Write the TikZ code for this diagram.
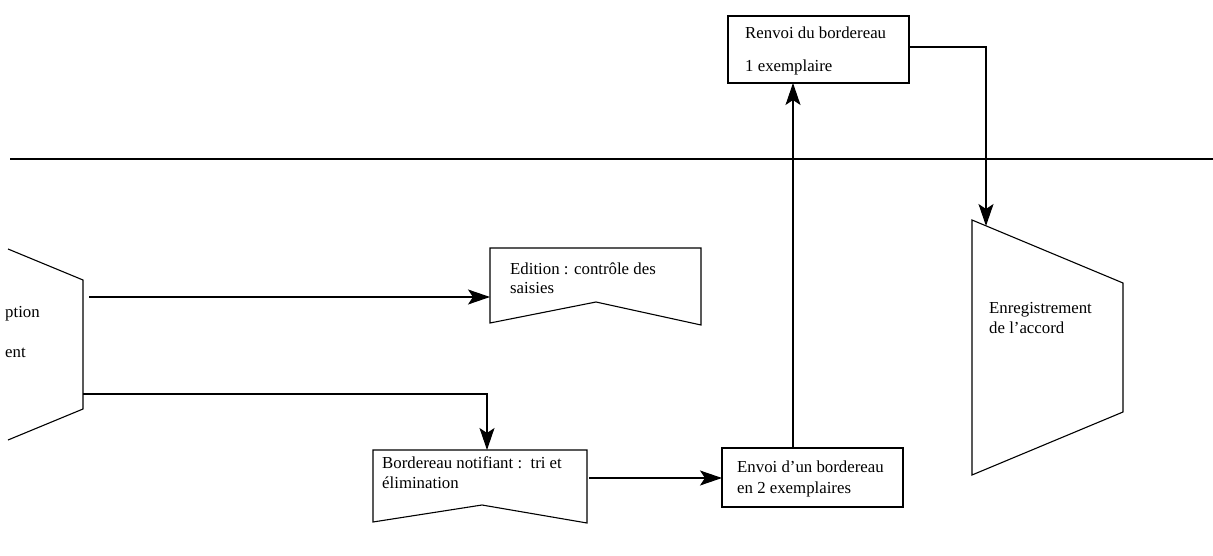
\documentclass[tikz,border=0pt]{standalone}
\usepackage{fontspec}
\setmainfont{Liberation Serif}
\usetikzlibrary{arrows.meta}
\tikzset{
  shape line/.style={draw=black, line width=1.1pt, line join=miter},
  link/.style={draw=black, line width=1.1pt, -{Stealth[length=22pt,width=15pt,inset=5pt]}},
  plain link/.style={draw=black, line width=1.1pt},
  label text/.style={anchor=base west, inner sep=0pt, font=\fontsize{16.8}{20}\selectfont},
}
\begin{document}
\begin{tikzpicture}[x=1pt,y=-1pt]
\useasboundingbox (0,0) rectangle (1213,556);
\fill[white] (0,0) rectangle (1213,556);

% separator between the two zones
\draw[plain link] (10,159) -- (1213,159);

% left process block (partly outside the page)
\draw[shape line] (8,249) -- (83,280) -- (83,409) -- (8,440);
\node[label text] (t1) at (5,317) {ption};
\node[label text] (t2) at (5,357) {ent};
\coordinate (srcA) at (89,297);
\coordinate (srcB) at (83,394);

% document: Edition
\draw[shape line] (490,248) -- (701,248) -- (701,325) -- (596,302) -- (490,323) -- cycle;
\coordinate (edIn) at (490,297);
\node[label text] (ed1) at (510,275) {Edition : contrôle des};
\node[label text] (ed2) at (510,294) {saisies};

% document: Bordereau notifiant
\draw[shape line] (373,450) -- (587,450) -- (587,523) -- (482,505) -- (373,522) -- cycle;
\coordinate (boTop) at (487,450);
\coordinate (boOut) at (589,478);
\coordinate (bend) at (487,394);
\node[label text] (bo1) at (382,468) {Bordereau notifiant :\ \ tri et};
\node[label text] (bo2) at (382,488) {élimination};

% process: Envoi
\draw[shape line] (722,448) rectangle (903,507);
\coordinate (enIn) at (722,478);
\coordinate (enTop) at (793,448);
\node[label text] (en1) at (737,472) {Envoi d'un bordereau};
\node[label text] (en2) at (737,493) {en 2 exemplaires};

% process: Renvoi
\draw[shape line] (728,16) rectangle (909,83);
\coordinate (reBot) at (793,83);
\coordinate (reOut) at (909,47);
\coordinate (corner) at (986,47);
\node[label text] (re1) at (745,39) {Renvoi du bordereau};
\node[label text] (re2) at (745,72) {1 exemplaire};

% manual operation: Enregistrement
\draw[shape line] (972,220) -- (1123,283) -- (1123,412) -- (972,475) -- cycle;
\coordinate (egIn) at (986,226);
\node[label text] (eg1) at (989,313) {Enregistrement};
\node[label text] (eg2) at (989,333) {de l'accord};

% connectors
\draw[link] (srcA) -- (edIn);
\draw[link] (srcB) -- (bend) -- (boTop);
\draw[link] (boOut) -- (enIn);
\draw[link] (enTop) -- (reBot);
\draw[link] (reOut) -- (corner) -- (egIn);
\end{tikzpicture}
\end{document}
